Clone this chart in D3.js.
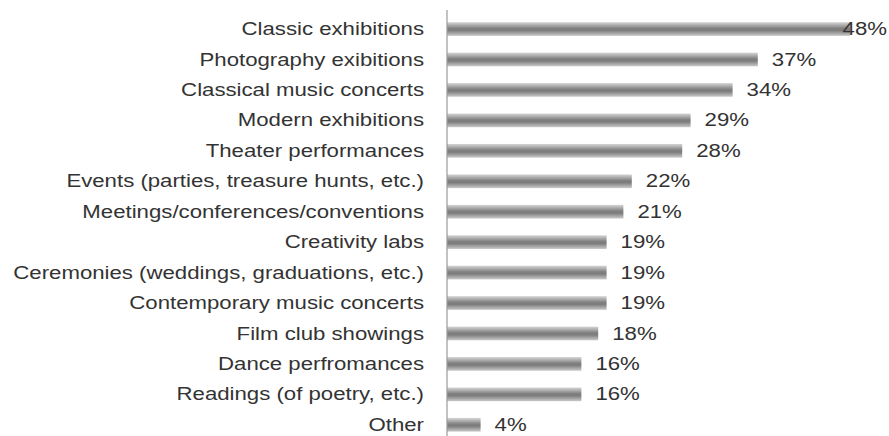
<!DOCTYPE html>
<html><head><meta charset="utf-8">
<script src="https://cdn.jsdelivr.net/npm/d3@7/dist/d3.min.js"></script>
<style>body{margin:0;background:#fff}svg{display:block}</style>
</head><body>
<svg id="chart" width="889" height="436"></svg>
<script>
const categories = ["Classic exhibitions","Photography exibitions","Classical music concerts","Modern exhibitions","Theater performances","Events (parties, treasure hunts, etc.)","Meetings/conferences/conventions","Creativity labs","Ceremonies (weddings, graduations, etc.)","Contemporary music concerts","Film club showings","Dance perfromances","Readings (of poetry, etc.)","Other"];
const values = [48,37,34,29,28,22,21,19,19,19,18,16,16,4];
const valueLabels = values.map(v => v + "%");

const W = 889, H = 436, SX = 1.2;
const svg = d3.select("#chart");
const x = d3.scaleLinear().domain([0, 50]).range([447, 867]);
const y = d3.scaleBand().domain(categories).range([13.8, 440]).paddingInner(0.55).paddingOuter(0.275);

const defs = svg.append("defs");
const g = defs.append("linearGradient").attr("id","barGrad").attr("x1",0).attr("y1",0).attr("x2",0).attr("y2",1);
g.append("stop").attr("offset","0%").attr("stop-color","#d6d6d6");
g.append("stop").attr("offset","45%").attr("stop-color","#808080");
g.append("stop").attr("offset","60%").attr("stop-color","#7c7c7c");
g.append("stop").attr("offset","100%").attr("stop-color","#cacaca");

svg.append("g").selectAll("rect").data(values).join("rect")
  .attr("x", x(0))
  .attr("y", (d,i) => y(categories[i]))
  .attr("width", d => x(d) - x(0))
  .attr("height", y.bandwidth())
  .attr("fill", "url(#barGrad)");

const font = "Liberation Sans, Arial, sans-serif";
const yAxis = d3.axisLeft(y).tickSize(0).tickPadding(0);
const ya = svg.append("g").attr("transform", `translate(${x(0)},0)`).call(yAxis);
ya.select(".domain").attr("d", `M0,10V${H}`).attr("stroke", "#9a9a9a").attr("stroke-width", 1.2);
ya.selectAll(".tick text").attr("font-family", font).attr("font-size", 18.5)
  .attr("fill","#333").attr("x", -23 / SX).attr("dy", "0.33em")
  .attr("transform", `scale(${SX},1)`);

const vl = svg.append("g").selectAll("g").data(values).join("g")
  .attr("transform", (d,i) => `translate(0,${y(categories[i]) + y.bandwidth()/2})`);
vl.append("text")
  .attr("font-family", font).attr("font-size", 18.5).attr("fill","#333")
  .attr("dy", "0.33em")
  .text((d,i) => valueLabels[i])
  .each(function(d) {
    const w = this.getComputedTextLength() * SX;
    const sx = Math.min(x(d) + 14, W - 2 - w);
    d3.select(this).attr("transform", `translate(${sx},0) scale(${SX},1)`);
  });
</script>
</body></html>
